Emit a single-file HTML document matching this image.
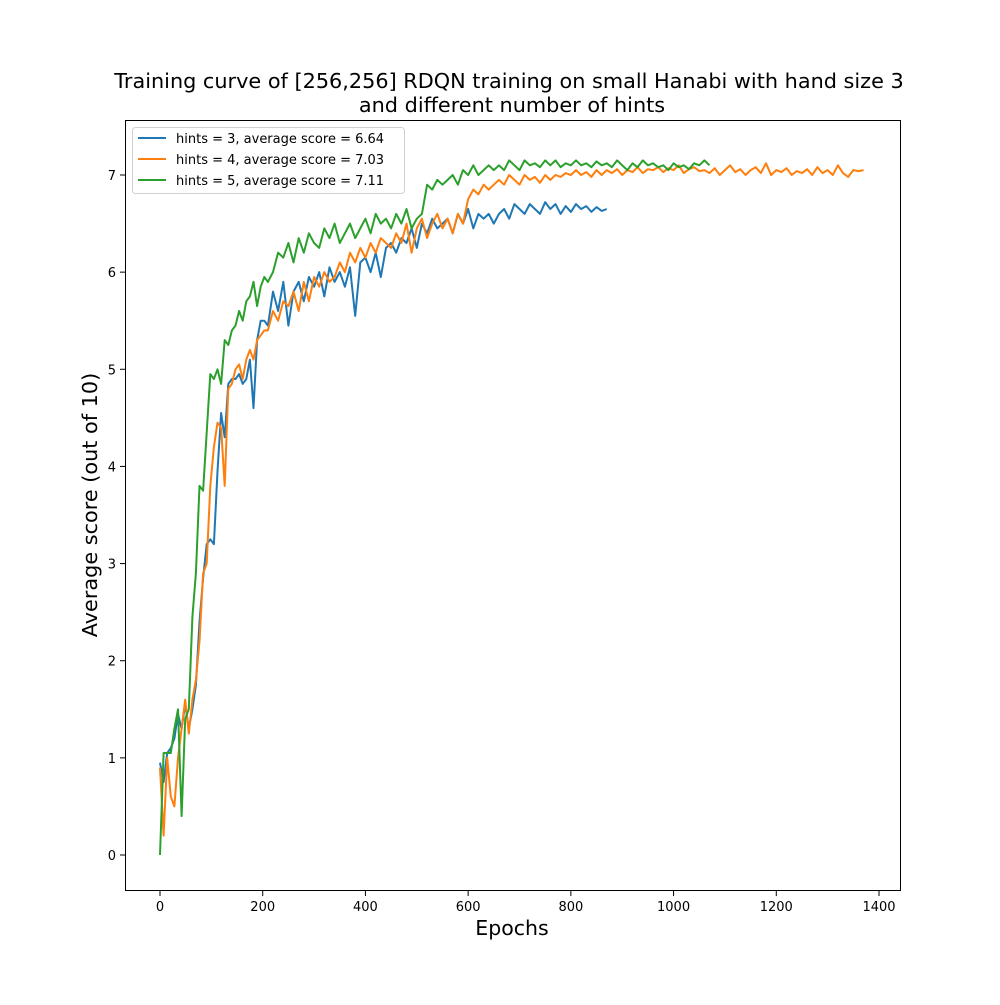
<!DOCTYPE html>
<html><head><meta charset="utf-8"><style>
body{margin:0;background:#fff}
svg text{font-family:"DejaVu Sans","Liberation Sans",sans-serif}
</style></head><body>
<svg id="chart" width="1000" height="1000" xmlns="http://www.w3.org/2000/svg">
<rect width="1000" height="1000" fill="#fff"/>
<text x="509" y="88" font-size="20.8" text-anchor="middle">Training curve of [256,256] RDQN training on small Hanabi with hand size 3</text>
<text x="512" y="112" font-size="20.8" text-anchor="middle">and different number of hints</text>
<g id="plot"></g>
<rect x="125.5" y="120.5" width="775" height="770" fill="none" stroke="#000" stroke-width="1"/>
<g id="axes"></g>
<text x="512" y="935" font-size="20.5" text-anchor="middle">Epochs</text>
<text transform="translate(97,505) rotate(-90)" font-size="20.8" text-anchor="middle">Average score (out of 10)</text>
<g>
<rect x="132.5" y="127.5" width="272" height="66" rx="3" fill="#fff" stroke="#ccc" stroke-opacity="0.9"/>
<line x1="138" y1="138" x2="166" y2="138" stroke="#1f77b4" stroke-width="2"/>
<text x="176" y="143" font-size="13">hints = 3, average score = 6.64</text>
<line x1="138" y1="159" x2="166" y2="159" stroke="#ff7f0e" stroke-width="2"/>
<text x="176" y="164" font-size="13">hints = 4, average score = 7.03</text>
<line x1="138" y1="180" x2="166" y2="180" stroke="#2ca02c" stroke-width="2"/>
<text x="176" y="185" font-size="13">hints = 5, average score = 7.11</text>
</g>
</svg>
<script>
const xTicks=[0,200,400,600,800,1000,1200,1400];
const yTicks=[0,1,2,3,4,5,6,7];
const blueEarly=[0.95,0.75,1.05,1.1,1.2,1.45,1.3,1.55,1.3,1.5,1.75,2.4,2.85,3.2,3.25,3.2,3.95,4.55,4.3,4.85,4.9,4.9,4.95,4.85,4.9,5.1,4.6,5.3,5.5,5.5,5.45];
const blueLate=[5.8,5.6,5.9,5.45,5.8,5.9,5.7,5.95,5.85,6.0,5.75,6.05,5.9,6.0,5.85,6.05,5.55,6.1,6.15,6.0,6.2,5.95,6.25,6.3,6.2,6.35,6.3,6.45,6.25,6.5,6.4,6.55,6.45,6.5,6.55,6.4,6.6,6.5,6.65,6.45,6.6,6.55,6.6,6.5,6.6,6.65,6.55,6.7,6.65,6.6,6.7,6.65,6.6,6.72,6.65,6.7,6.6,6.68,6.62,6.7,6.65,6.68,6.62,6.67,6.63,6.65];
const orangeEarly=[0.9,0.2,1.0,0.6,0.5,1.0,1.3,1.6,1.25,1.6,1.8,2.2,2.9,3.0,3.8,4.2,4.45,4.4,3.8,4.8,4.85,5.0,5.05,4.9,5.1,5.2,5.1,5.3,5.35,5.4,5.4];
const orangeLate=[5.6,5.5,5.7,5.65,5.8,5.6,5.9,5.7,5.95,5.85,6.0,5.9,5.95,6.1,6.0,6.2,6.1,6.25,6.15,6.3,6.2,6.35,6.3,6.25,6.4,6.3,6.5,6.2,6.45,6.55,6.35,6.5,6.6,6.45,6.55,6.4,6.6,6.5,6.75,6.85,6.8,6.9,6.85,6.9,6.95,6.9,7.0,6.95,6.9,7.0,6.95,6.98,6.92,7.0,6.95,7.0,6.98,7.02,7.0,7.05,7.0,7.03,6.98,7.05,7.0,7.05,7.02,7.06,7.0,7.05,7.03,7.08,7.02,7.06,7.05,7.08,7.03,7.07,7.05,7.1,7.02,7.06,7.08,7.04,7.05,7.02,7.07,7.0,7.05,7.1,7.03,7.06,7.0,7.05,7.08,7.02,7.12,7.0,7.05,7.03,7.07,7.0,7.04,7.02,7.06,7.0,7.08,7.02,7.05,7.0,7.1,7.02,6.98,7.05,7.04,7.05];
const greenEarly=[0.0,1.05,1.05,1.05,1.3,1.5,0.4,1.4,1.5,2.45,2.9,3.8,3.75,4.35,4.95,4.9,5.0,4.85,5.3,5.25,5.4,5.45,5.6,5.5,5.7,5.75,5.9,5.65,5.85,5.95,5.9];
const greenLate=[6.0,6.2,6.15,6.3,6.1,6.35,6.2,6.4,6.3,6.25,6.45,6.35,6.5,6.3,6.4,6.5,6.35,6.45,6.55,6.4,6.6,6.5,6.55,6.45,6.6,6.5,6.65,6.45,6.55,6.6,6.9,6.85,6.95,6.9,6.95,7.0,6.9,7.05,7.0,7.1,7.0,7.05,7.1,7.05,7.1,7.05,7.15,7.1,7.05,7.15,7.1,7.12,7.08,7.15,7.1,7.15,7.08,7.12,7.1,7.15,7.1,7.12,7.08,7.14,7.1,7.12,7.08,7.15,7.1,7.05,7.12,7.08,7.15,7.1,7.12,7.08,7.1,7.05,7.12,7.08,7.1,7.06,7.12,7.1,7.15,7.1];
const xs=v=>160+v*(719/1400);
const ys=v=>855-v*(680/7);
const NS='http://www.w3.org/2000/svg';
function mk(t){return document.createElementNS(NS,t);}
function build(early,late){const p=[];early.forEach((v,i)=>p.push([i*7,v]));late.forEach((v,i)=>p.push([220+i*10,v]));return p;}
const plot=document.getElementById('plot');
[['blue',blueEarly,blueLate,'#1f77b4','series-hints-3'],['orange',orangeEarly,orangeLate,'#ff7f0e','series-hints-4'],['green',greenEarly,greenLate,'#2ca02c','series-hints-5']].forEach(s=>{
 const pts=build(s[1],s[2]);
 const pl=mk('polyline');
 pl.setAttribute('points',pts.map(p=>xs(p[0]).toFixed(1)+','+ys(p[1]).toFixed(1)).join(' '));
 pl.setAttribute('fill','none');pl.setAttribute('stroke',s[3]);pl.setAttribute('stroke-width','2');pl.setAttribute('stroke-linejoin','round');
 
 
 plot.appendChild(pl);
});
const ax=document.getElementById('axes');
xTicks.forEach(t=>{
 const l=mk('line');l.setAttribute('x1',xs(t));l.setAttribute('x2',xs(t));l.setAttribute('y1',891);l.setAttribute('y2',896);l.setAttribute('stroke','#000');
 
 
 ax.appendChild(l);
 const tx=mk('text');tx.setAttribute('x',xs(t));tx.setAttribute('y',911);tx.setAttribute('font-size','13');tx.setAttribute('text-anchor','middle');tx.textContent=t;
 
 
 ax.appendChild(tx);
});
yTicks.forEach(t=>{
 const l=mk('line');l.setAttribute('x1',120);l.setAttribute('x2',125);l.setAttribute('y1',ys(t));l.setAttribute('y2',ys(t));l.setAttribute('stroke','#000');
 
 
 ax.appendChild(l);
 const tx=mk('text');tx.setAttribute('x',116);tx.setAttribute('y',ys(t)+5);tx.setAttribute('font-size','13');tx.setAttribute('text-anchor','end');tx.textContent=t;
 
 
 ax.appendChild(tx);
});
</script>
</body></html>
